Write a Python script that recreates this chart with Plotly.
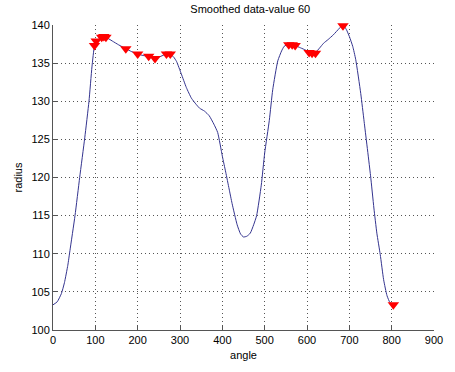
import plotly.graph_objects as go

curve_x = [0, 10, 20, 27, 35, 40, 52, 63, 75, 85, 92, 98, 102, 110, 118, 125, 140, 155, 172, 186,
           200, 213, 226, 241, 255, 268, 277, 285, 292, 303, 315, 327, 338, 346, 358, 369, 380, 389,
           400, 408, 416, 423, 435, 443, 450, 458, 466, 474, 481, 492, 500, 511, 519, 531, 540, 546,
           557, 565, 572, 585, 597, 605, 612, 620, 630, 639, 650, 662, 677, 685, 693, 700, 708, 715,
           727, 735, 750, 758, 765, 773, 781, 789, 796, 804]
curve_y = [103.3, 103.7, 104.8, 106.2, 108.5, 110.4, 115.0, 120.0, 125.2, 130.0, 134.5, 137.3, 137.8,
           138.3, 138.5, 138.4, 137.9, 137.4, 136.9, 136.5, 136.2, 136.0, 135.9, 135.6, 135.9, 136.2,
           136.2, 135.8, 135.2, 133.6, 131.8, 130.4, 129.6, 129.1, 128.7, 128.1, 127.0, 125.9, 122.8,
           120.7, 118.5, 116.6, 113.8, 112.6, 112.2, 112.3, 112.7, 113.8, 115.0, 119.0, 123.2, 127.5,
           131.5, 135.3, 136.6, 137.2, 137.5, 137.4, 137.3, 137.0, 136.7, 136.4, 136.3, 136.4, 137.0,
           137.6, 138.1, 138.7, 139.6, 140.0, 139.4, 138.5, 137.2, 135.5, 131.0, 127.3, 120.3,
           116.0, 112.7, 109.9, 106.6, 104.5, 103.6, 103.3]

peak_x = [98, 102, 115, 120, 125, 172, 200, 226, 241, 268, 277, 557, 565, 572, 605, 612, 620, 685, 804]
peak_y = [137.3, 137.9, 138.4, 138.5, 138.4, 136.9, 136.2, 135.9, 135.6, 136.2, 136.2, 137.4, 137.4,
          137.3, 136.4, 136.3, 136.3, 139.9, 103.3]

x_ticks = [0, 100, 200, 300, 400, 500, 600, 700, 800, 900]
y_ticks = [100, 105, 110, 115, 120, 125, 130, 135, 140]

fig = go.Figure()
fig.add_trace(go.Scatter(x=curve_x, y=curve_y, mode="lines",
                         line=dict(color="#34348f", width=1, shape="spline", smoothing=0.5),
                         showlegend=False))
fig.add_trace(go.Scatter(x=peak_x, y=peak_y, mode="markers",
                         marker=dict(symbol="triangle-down", size=10, color="#ff0000",
                                     line=dict(width=0)),
                         cliponaxis=False, showlegend=False))

font = dict(family="Liberation Sans, Arial, sans-serif", size=11, color="#000000")
fig.update_layout(
    width=455, height=372,
    margin=dict(l=53, r=12, t=25, b=40),
    paper_bgcolor="white", plot_bgcolor="white",
    font=font,
    title=dict(text="Smoothed data-value 60", x=0.55, xanchor="center", y=0.985, yanchor="top",
               font=dict(family="Liberation Sans, Arial, sans-serif", size=11)),
    xaxis=dict(range=[0, 900], tickvals=x_ticks, ticktext=[str(v) for v in x_ticks],
               showgrid=True, gridcolor="#555555", griddash="1px,3px", gridwidth=1,
               showline=True, linecolor="#555555", linewidth=1, mirror=False,
               ticks="inside", ticklen=4, tickcolor="#555555", zeroline=False,
               title=dict(text="angle", standoff=6, font=font)),
    yaxis=dict(range=[100, 140], tickvals=y_ticks, ticktext=[str(v) for v in y_ticks],
               showgrid=True, gridcolor="#555555", griddash="1px,3px", gridwidth=1,
               showline=True, linecolor="#555555", linewidth=1, mirror=False,
               ticks="inside", ticklen=4, tickcolor="#555555", zeroline=False,
               title=dict(text="radius", standoff=6, font=font)),
)
fig.write_html("out.html")
